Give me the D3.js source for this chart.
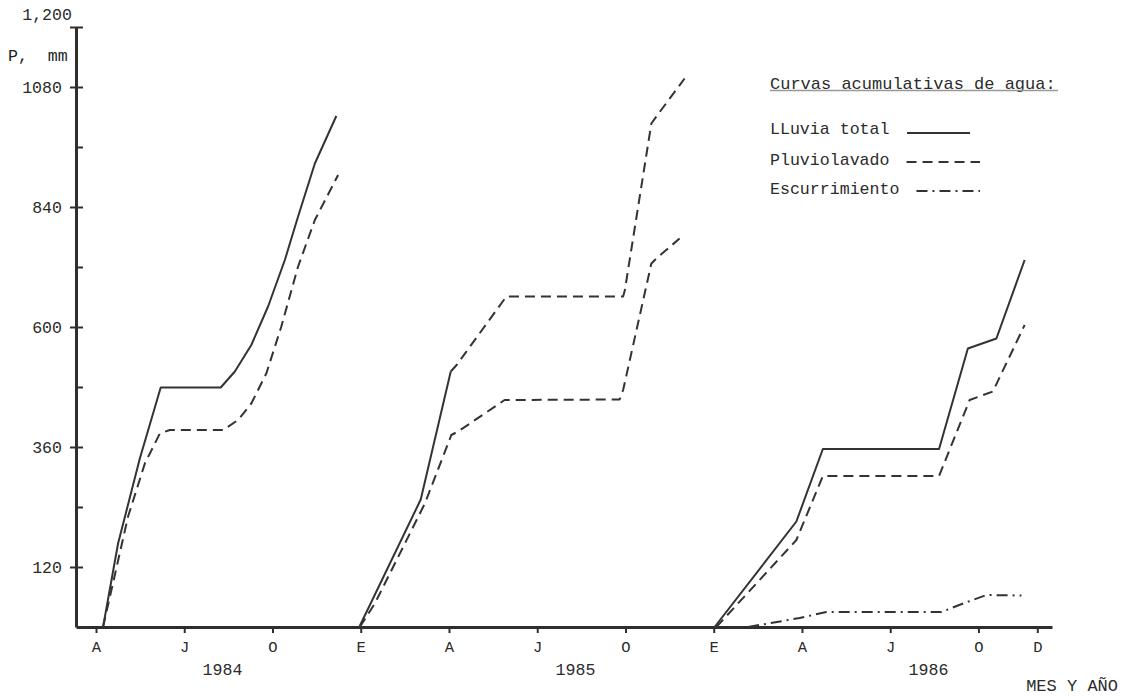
<!DOCTYPE html>
<html>
<head>
<meta charset="utf-8">
<script src="https://cdn.jsdelivr.net/npm/d3@7"></script>
<style>
  body { margin: 0; background: #fff; }
  svg text { font-family: 'Liberation Mono', 'DejaVu Sans Mono', monospace; fill: #2b2b2b; white-space: pre; }
</style>
</head>
<body>
<div id="chart"></div>
<script>
// x values are months counted from Jan 1984 (12 = Jan 1985, 24 = Jan 1986)
// y values are cumulative mm
let meses = ['A', 'J', 'O', 'E', 'A', 'J', 'O', 'E', 'A', 'J', 'O', 'D'];
let mesPos = [3, 6, 9, 12, 15, 18, 21, 24, 27, 30, 33, 35];
let anios = ['1984', '1985', '1986'];
let anioPos = [7.3, 19.3, 31.3];
let yTicks = [120, 240, 360, 480, 600, 720, 840, 960, 1080, 1200];
let yLabels = [120, 360, 600, 840, 1080];

let lluvia1984 = [[3.24, 0], [3.75, 167], [4.49, 337], [5.20, 479], [7.24, 479], [7.72, 511],
  [8.28, 564], [8.85, 641], [9.42, 734], [9.87, 821], [10.44, 927], [11.17, 1022]];
let pluvio1984 = [[3.24, 0], [4.09, 221], [4.66, 327], [5.17, 387], [5.51, 394], [7.32, 394],
  [7.83, 414], [8.28, 447], [8.79, 507], [9.30, 601], [9.87, 721], [10.44, 814], [11.23, 904]];

let lluvia1985 = [[11.95, 0], [14.04, 255], [15.06, 511]];
// after April the total rainfall of 1985 is drawn dashed in the original
let lluviaEst1985 = [[15.06, 511], [15.26, 524], [16.95, 661], [20.92, 661], [20.98, 674],
  [21.88, 1007], [22.05, 1021], [23.01, 1097]];
let pluvio1985 = [[11.97, 0], [12.48, 47], [14.18, 247], [15.08, 384], [15.31, 391], [16.89, 454],
  [20.80, 455], [20.92, 474], [21.88, 727], [22.05, 737], [22.84, 777]];

let lluvia1986 = [[24.03, 0], [26.81, 211], [27.71, 356], [31.66, 356], [32.64, 557], [33.61, 577], [34.57, 734]];
let pluvio1986 = [[24.09, 0], [26.81, 174], [27.71, 302], [31.66, 302], [32.70, 454], [33.49, 471], [34.57, 604]];
let escurr1986 = [[25.17, 0], [26.92, 18], [27.83, 30], [31.74, 30], [32.48, 47], [33.27, 64], [34.46, 63]];

let legend = [
  {label: 'LLuvia total', dash: null},
  {label: 'Pluviolavado', dash: '10,6'},
  {label: 'Escurrimiento', dash: '11,5,2,5'}
];

let W = 1129, H = 696;
let svg = d3.select('#chart').append('svg')
  .attr('width', W)
  .attr('height', H);

let x = d3.scaleLinear().domain([2.32, 35.5]).range([76, 1052]);
let y = d3.scaleLinear().domain([0, 1200]).range([627, 27]);

let ink = '#2e2e2e';
let fontSize = 16.6;

// axes
let xAxis = svg.append('g')
  .attr('transform', 'translate(0,' + y(0) + ')')
  .call(d3.axisBottom(x).tickValues(mesPos).tickSize(6).tickSizeOuter(0)
    .tickFormat(function(d, i) { return meses[i]; }));
xAxis.select('.domain').attr('stroke', ink).attr('stroke-width', 3);
xAxis.selectAll('.tick line').attr('stroke', ink).attr('stroke-width', 2);
xAxis.selectAll('.tick text')
  .attr('y', 20).attr('dy', '0.35em')
  .style('font-size', '15.5px');

let yAxisR = svg.append('g')
  .attr('transform', 'translate(' + x.range()[0] + ',0)')
  .call(d3.axisRight(y).tickValues(yTicks).tickSize(7).tickSizeOuter(0).tickFormat(''));
yAxisR.select('.domain').attr('stroke', ink).attr('stroke-width', 3);
yAxisR.selectAll('.tick line').attr('stroke', ink).attr('stroke-width', 2);

let yAxisL = svg.append('g')
  .attr('transform', 'translate(' + x.range()[0] + ',0)')
  .call(d3.axisLeft(y).tickValues(yLabels.concat([1200])).tickSize(6).tickSizeOuter(0).tickPadding(8)
    .tickFormat(function(d) { return d === 1200 ? '' : d; }));
yAxisL.select('.domain').remove();
yAxisL.selectAll('.tick line').attr('stroke', ink).attr('stroke-width', 2);
yAxisL.selectAll('.tick text')
  .style('font-size', fontSize + 'px')
  .attr('fill', '#3a3a3a');

svg.append('text')
  .attr('x', 72).attr('y', 14).attr('dy', '0.35em')
  .attr('text-anchor', 'end')
  .style('font-size', fontSize + 'px')
  .text('1,200');

svg.append('text')
  .attr('x', 8).attr('y', 55).attr('dy', '0.35em')
  .style('font-size', fontSize + 'px')
  .style('fill', '#1e1e1e')
  .text('P,  mm');

// year labels under the months
svg.selectAll('.anio')
  .data(anios)
  .enter().append('text')
  .attr('class', 'anio')
  .attr('x', function(d, i) { return x(anioPos[i]); })
  .attr('y', 669).attr('dy', '0.35em')
  .attr('text-anchor', 'middle')
  .style('font-size', fontSize + 'px')
  .text(function(d) { return d; });

svg.append('text')
  .attr('x', 1118).attr('y', 685).attr('dy', '0.35em')
  .attr('text-anchor', 'end')
  .style('font-size', '17px')
  .text('MES Y AÑO');

// curves
let line = d3.line()
  .x(function(d) { return x(d[0]); })
  .y(function(d) { return y(d[1]); });

let curves = [
  {data: lluvia1984, dash: null},
  {data: pluvio1984, dash: '10,6'},
  {data: lluvia1985, dash: null},
  {data: lluviaEst1985, dash: '10,6'},
  {data: pluvio1985, dash: '10,6'},
  {data: lluvia1986, dash: null},
  {data: pluvio1986, dash: '10,6'},
  {data: escurr1986, dash: '11,5,2,5'}
];

svg.append('g').selectAll('path')
  .data(curves)
  .enter().append('path')
  .attr('d', function(d) { return line(d.data); })
  .attr('fill', 'none')
  .attr('stroke', '#333')
  .attr('stroke-width', 2)
  .attr('stroke-linejoin', 'round')
  .attr('stroke-dasharray', function(d) { return d.dash; });

// legend
let lg = svg.append('g');
lg.append('text')
  .attr('x', 770).attr('y', 83).attr('dy', '0.35em')
  .style('font-size', '17px')
  .text('Curvas acumulativas de agua:');
lg.append('line')
  .attr('x1', 770).attr('x2', 1058)
  .attr('y1', 90.5).attr('y2', 90.5)
  .attr('stroke', '#999').attr('stroke-width', 1.5);

let rows = [128, 159, 188];
let sampleY = [133, 162, 191];
legend.forEach(function(d, i) {
  lg.append('text')
    .attr('x', 770).attr('y', rows[i]).attr('dy', '0.35em')
    .style('font-size', fontSize + 'px')
    .text(d.label);
  let x0 = d.label.length * fontSize * 0.6 + 770 + 17;
  lg.append('line')
    .attr('x1', i === 0 ? 907 : x0).attr('x2', i === 0 ? 970 : 980)
    .attr('y1', sampleY[i]).attr('y2', sampleY[i])
    .attr('stroke', '#333').attr('stroke-width', 2)
    .attr('stroke-dasharray', d.dash);
});
</script>
</body>
</html>
